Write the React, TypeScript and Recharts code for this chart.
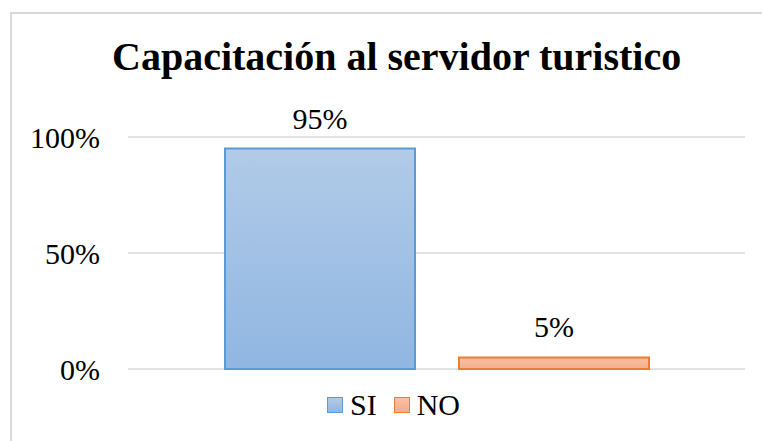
import React from "react";
import { BarChart, Bar, XAxis, YAxis, CartesianGrid, LabelList } from "recharts";

const categories = ["Capacitación"];
const seriesNames = ["SI", "NO"];
const seriesValues = [0.95, 0.05];
const yTicks = [0, 0.5, 1];
const title = "Capacitación al servidor turistico";

const data = categories.map((c) => {
  const row: Record<string, string | number> = { name: c };
  seriesNames.forEach((s, i) => (row[s] = seriesValues[i]));
  return row;
});

const styles = [
  { stroke: "#5b9bd5", top: "#b1cbe8", bottom: "#90b6e2", id: "gSI" },
  { stroke: "#ed7d31", top: "#f8c0a6", bottom: "#f5ac8b", id: "gNO" },
];

const pct = (v: any) => `${Math.round(Number(v) * 100)}%`;
const FONT = "'Liberation Serif', 'Times New Roman', serif";

export default function App() {
  return (
    <div style={{ position: "absolute", left: 0, top: 0, width: 762, height: 441, overflow: "hidden", background: "#fff", fontFamily: FONT }}>
      <div style={{ position: "absolute", left: 10, top: 12, width: 800, height: 480, borderLeft: "2px solid #d9d9d9", borderTop: "2px solid #d9d9d9" }} />
      <div style={{ position: "absolute", left: 112, top: 37, whiteSpace: "nowrap", fontSize: 40, fontWeight: "bold", color: "#000", lineHeight: "40px" }}>
        {title}
      </div>
      <div style={{ position: "absolute", left: 0, top: 0 }}>
        <BarChart width={762} height={441} data={data} margin={{ top: 137, right: 17, bottom: 72, left: 0 }} barGap={44}>
          <defs>
            {styles.map((s) => (
              <linearGradient key={s.id} id={s.id} x1="0" y1="0" x2="0" y2="1">
                <stop offset="0%" stopColor={s.top} />
                <stop offset="100%" stopColor={s.bottom} />
              </linearGradient>
            ))}
          </defs>
          <CartesianGrid vertical={false} stroke="#d9d9d9" strokeWidth={1.5} />
          <XAxis dataKey="name" hide />
          <YAxis
            domain={[0, 1]}
            ticks={yTicks}
            tickFormatter={pct}
            width={128}
            axisLine={false}
            tickLine={false}
            tickSize={0}
            tickMargin={28}
            tick={{ fontSize: 30, fill: "#000", fontFamily: FONT }}
          />
          {seriesNames.map((s, i) => (
            <Bar key={s} dataKey={s} barSize={190} fill={`url(#${styles[i].id})`} stroke={styles[i].stroke} strokeWidth={2} isAnimationActive={false}>
              <LabelList dataKey={s} position="top" offset={20} formatter={pct} style={{ fontSize: 30, fill: "#000", fontFamily: FONT }} />
            </Bar>
          ))}
        </BarChart>
      </div>
      <div style={{ position: "absolute", left: 327, top: 390, display: "flex", fontSize: 30, color: "#000", lineHeight: "30px" }}>
        {seriesNames.map((s, i) => (
          <div key={s} style={{ display: "flex", alignItems: "center", marginRight: i === 0 ? 17 : 0 }}>
            <div style={{ width: 14, height: 14, border: `1.5px solid ${styles[i].stroke}`, background: `linear-gradient(${styles[i].top}, ${styles[i].bottom})`, marginRight: 7 }} />
            <span>{s}</span>
          </div>
        ))}
      </div>
    </div>
  );
}
